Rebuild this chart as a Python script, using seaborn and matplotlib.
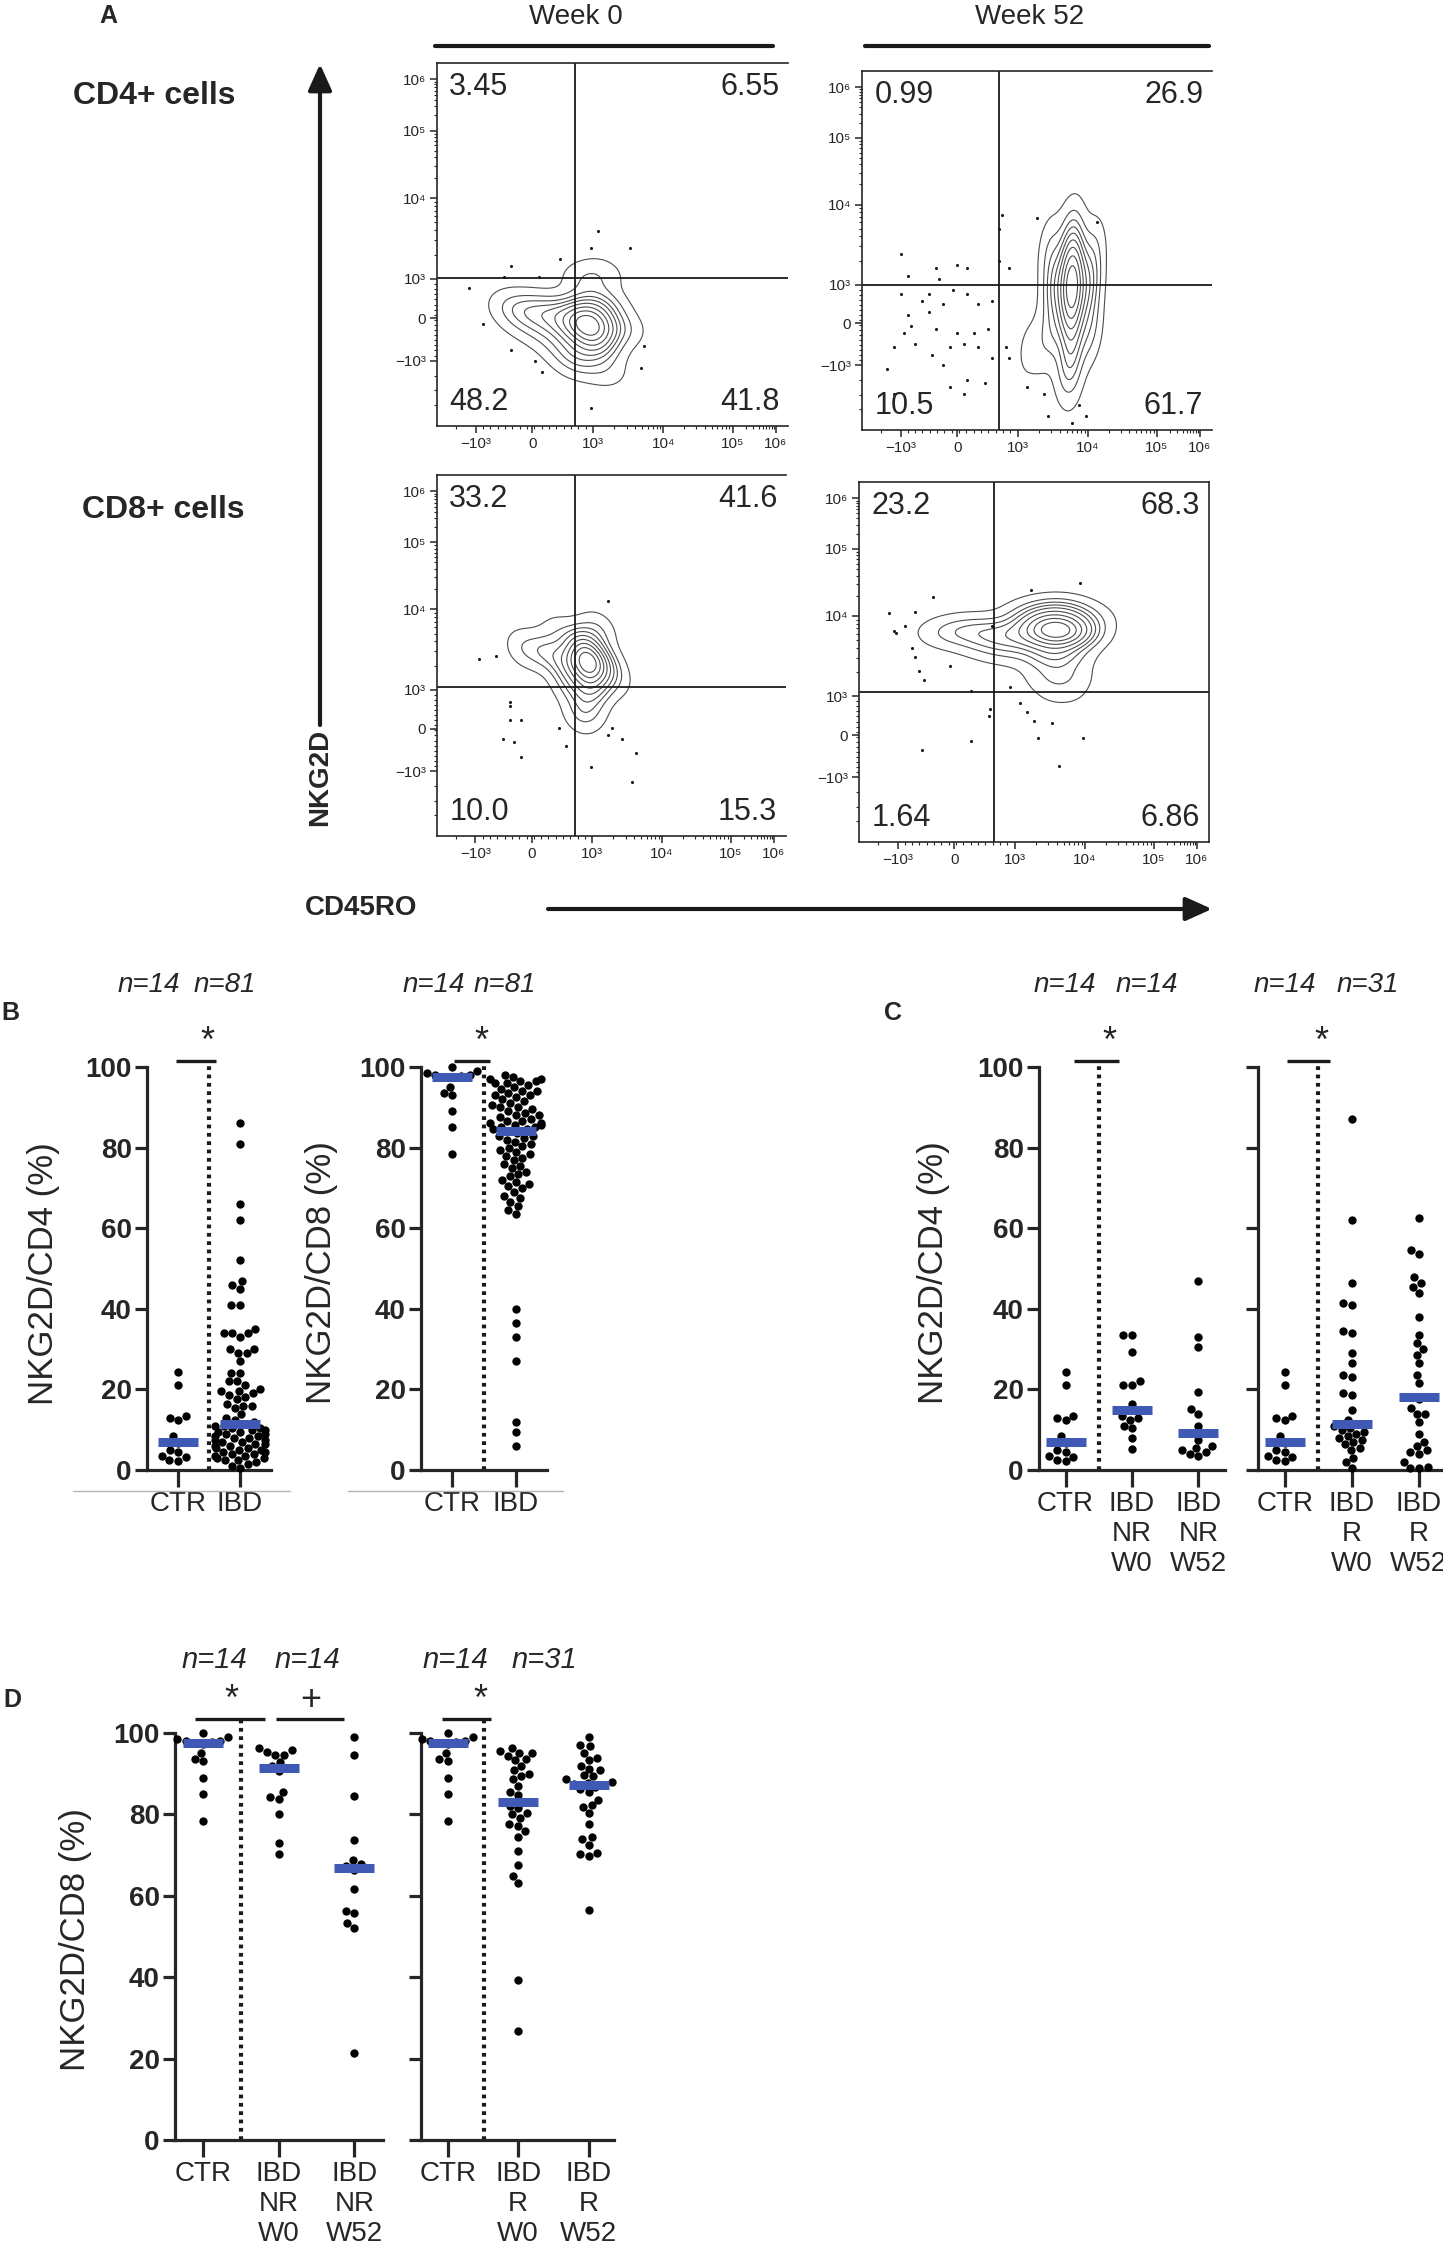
import numpy as np
import pandas as pd
import matplotlib
matplotlib.use("Agg")
import matplotlib.pyplot as plt
import seaborn as sns
from matplotlib.lines import Line2D
from matplotlib.patches import FancyArrowPatch

# ---------------- Panel A: flow cytometry ----------------
flow_ticks_x = [0.11, 0.272, 0.445, 0.645, 0.842, 0.965]
flow_ticks_y = [0.18, 0.297, 0.405, 0.628, 0.814, 0.955]
flow_tick_labels = ["−10³", "0", "10³", "10⁴", "10⁵", "10⁶"]

# quadrant frequencies: UL, UR, LL, LR
quad_cd4_w0 = ["3.45", "6.55", "48.2", "41.8"]
quad_cd4_w52 = ["0.99", "26.9", "10.5", "61.7"]
quad_cd8_w0 = ["33.2", "41.6", "10.0", "15.3"]
quad_cd8_w52 = ["23.2", "68.3", "1.64", "6.86"]

# gate positions (x, y) on the display scale
gate_cd4_w0 = (0.392, 0.407)
gate_cd4_w52 = (0.391, 0.404)
gate_cd8_w0 = (0.395, 0.414)
gate_cd8_w52 = (0.387, 0.416)

# weighted event clouds (display scale)
cd4_w0_x = [0.44, 0.42, 0.45, 0.47, 0.38, 0.33, 0.27, 0.21, 0.42, 0.47, 0.40, 0.48, 0.52, 0.36, 0.30, 0.24]
cd4_w0_y = [0.27, 0.31, 0.22, 0.33, 0.28, 0.31, 0.32, 0.33, 0.40, 0.42, 0.18, 0.15, 0.27, 0.22, 0.26, 0.29]
cd4_w0_w = [30, 15, 12, 8, 10, 8, 6, 4, 4, 3, 6, 3, 5, 5, 4, 3]

cd4_w52_x = [0.60, 0.60, 0.60, 0.55, 0.65, 0.55, 0.65, 0.60, 0.60, 0.54, 0.66, 0.60, 0.51, 0.47, 0.58]
cd4_w52_y = [0.40, 0.48, 0.32, 0.40, 0.40, 0.28, 0.28, 0.56, 0.22, 0.50, 0.50, 0.14, 0.24, 0.22, 0.17]
cd4_w52_w = [30, 16, 16, 10, 10, 6, 6, 5, 8, 5, 5, 3, 3, 2, 3]

cd8_w0_x = [0.43, 0.42, 0.44, 0.47, 0.37, 0.31, 0.25, 0.43, 0.38, 0.46, 0.35, 0.50, 0.41]
cd8_w0_y = [0.48, 0.53, 0.42, 0.48, 0.48, 0.51, 0.52, 0.36, 0.42, 0.57, 0.56, 0.44, 0.33]
cd8_w0_w = [30, 12, 12, 8, 8, 6, 4, 5, 5, 4, 3, 4, 3]

cd8_w52_x = [0.565, 0.60, 0.53, 0.57, 0.56, 0.57, 0.58, 0.47, 0.40, 0.32, 0.25, 0.43, 0.63, 0.50, 0.36]
cd8_w52_y = [0.585, 0.58, 0.60, 0.64, 0.52, 0.46, 0.41, 0.57, 0.58, 0.59, 0.58, 0.53, 0.62, 0.63, 0.55]
cd8_w52_w = [30, 10, 10, 8, 10, 5, 2, 6, 6, 5, 4, 3, 5, 5, 3]

# isolated events
cd4_w0_ox = [0.46, 0.44, 0.55, 0.21, 0.35, 0.09, 0.13, 0.21, 0.28, 0.30, 0.59, 0.58, 0.44, 0.19, 0.29]
cd4_w0_oy = [0.536, 0.49, 0.49, 0.44, 0.46, 0.38, 0.28, 0.21, 0.18, 0.15, 0.22, 0.16, 0.05, 0.41, 0.41]

cd4_w52_ox = [0.11, 0.13, 0.21, 0.22, 0.27, 0.30, 0.40, 0.39, 0.39, 0.11, 0.17, 0.19, 0.23, 0.26, 0.30,
              0.33, 0.37, 0.13, 0.19, 0.14, 0.21, 0.27, 0.32, 0.36, 0.12, 0.09, 0.15, 0.20, 0.25, 0.29,
              0.33, 0.37, 0.23, 0.25, 0.29, 0.30, 0.35, 0.07, 0.09, 0.41, 0.42, 0.47, 0.52, 0.53, 0.60,
              0.64, 0.62, 0.42, 0.50, 0.67]
cd4_w52_oy = [0.49, 0.43, 0.45, 0.42, 0.46, 0.45, 0.60, 0.56, 0.47, 0.38, 0.36, 0.38, 0.35, 0.39, 0.38,
              0.35, 0.36, 0.32, 0.33, 0.29, 0.28, 0.27, 0.27, 0.28, 0.27, 0.23, 0.24, 0.21, 0.23, 0.24,
              0.23, 0.20, 0.18, 0.12, 0.10, 0.14, 0.13, 0.17, 0.10, 0.23, 0.20, 0.12, 0.10, 0.04, 0.02,
              0.04, 0.07, 0.45, 0.59, 0.58]

cd8_w0_ox = [0.12, 0.17, 0.49, 0.21, 0.21, 0.21, 0.24, 0.19, 0.22, 0.24, 0.35, 0.37, 0.44, 0.50, 0.49, 0.53, 0.57, 0.56]
cd8_w0_oy = [0.49, 0.50, 0.65, 0.36, 0.37, 0.32, 0.32, 0.27, 0.26, 0.22, 0.30, 0.25, 0.19, 0.30, 0.28, 0.27, 0.23, 0.15]

cd8_w52_ox = [0.085, 0.10, 0.105, 0.13, 0.16, 0.21, 0.15, 0.16, 0.17, 0.185, 0.26, 0.32, 0.38, 0.375,
              0.37, 0.43, 0.46, 0.48, 0.50, 0.55, 0.51, 0.64, 0.57, 0.32, 0.18, 0.63, 0.49]
cd8_w52_oy = [0.635, 0.585, 0.58, 0.60, 0.64, 0.68, 0.54, 0.515, 0.475, 0.45, 0.49, 0.42, 0.60, 0.37,
              0.35, 0.43, 0.385, 0.36, 0.335, 0.33, 0.29, 0.29, 0.21, 0.28, 0.255, 0.72, 0.70]

# ---------------- Panels B-D: % NKG2D+ ----------------
ctr_cd4 = [24.3, 21.0, 13.5, 13.0, 12.5, 8.5, 7.0, 6.8, 5.0, 4.5, 3.5, 3.2, 2.5, 2.2]
ibd_cd4 = [86, 81, 66, 62, 52, 47, 46, 45, 41, 41, 35, 34, 34, 34, 33, 30, 30, 29, 29, 27, 24, 24, 22, 22, 21,
           20, 19.5, 19.5, 19, 18.5, 18, 17.5, 16.5, 16, 16, 15.5, 14, 13, 12.5, 12,
           11.5,
           11, 11, 10.5, 10.5, 10, 10, 9.5, 9.5, 9, 9, 8.5, 8.5, 8, 8, 7.5, 7.5, 7, 7, 6.5, 6.5,
           6, 6, 5.5, 5.5, 5, 5, 4.5, 4.5, 4, 4, 3.5, 3.5, 3, 3, 2.5, 2.5, 2, 1.5, 1, 0.5]
ctr_cd8 = [100, 99, 98.5, 98, 98, 97.8, 97.6, 97.4, 95, 93.5, 93, 89, 85, 78.5]
ibd_cd8 = [98, 97.5, 97, 97, 96.5, 96.5, 96, 96, 95.5, 95, 94.5, 94, 94, 93.5, 93, 93, 92.5, 92, 91.5, 91,
           90.5, 90, 90, 89.5, 89, 88.5, 88, 88, 87.5, 87, 86.5, 86.5, 86, 86, 85.5, 85.5, 85, 85, 84.5, 84.5,
           84,
           83.5, 83, 83, 82.5, 82, 81.5, 81, 80.5, 80, 79.5, 79, 78.5, 78, 77.5, 77, 76, 75.5, 75, 74, 73.5,
           73, 72, 71.5, 71, 70.5, 70, 69, 68, 67.5, 66.5, 65.5, 64.5, 63.5,
           40, 36.5, 33, 27, 12, 9.5, 6]

nr_w0_cd4 = [33.5, 33.5, 29.3, 22, 21.2, 21.2, 16.5, 13.5, 13, 12.5, 11, 10.5, 8, 5.2]
nr_w52_cd4 = [47, 33, 30.5, 19.3, 15.2, 14, 11, 7.5, 6, 5.5, 5, 4.5, 4, 3.5]
r_w0_cd4 = [87, 62, 46.5, 41.5, 41, 34.5, 34, 29, 26.5, 23.5, 23, 19, 18.5, 15, 12.5, 11.5,
            11, 10.5, 10, 9.5, 9, 8.5, 8, 7.5, 7, 6.5, 5.5, 5, 3, 2, 0.5]
r_w52_cd4 = [62.5, 54.5, 53.5, 48, 46.5, 45.5, 44, 38, 33.5, 31.5, 30, 28.5, 26.5, 23.5, 21.5, 18,
             17.5, 15.5, 14, 14, 12, 9, 7, 6, 5, 4.5, 4, 2, 0.8, 0.6, 0.5]

nr_w0_cd8 = [96.2, 95.8, 95.4, 94.7, 94.5, 92.9, 92.0, 90.6, 85.6, 84.2, 83.8, 80.2, 72.9, 70.2]
nr_w52_cd8 = [98.9, 94.7, 84.5, 73.6, 68.8, 67.8, 67.2, 66.4, 61.7, 56.2, 55.8, 53.3, 52, 21.4]
r_w0_cd8 = [96.4, 95.5, 95.2, 95, 94.4, 93.6, 93.4, 91.9, 90.8, 89.9, 89.5, 88.6, 87, 85.5, 84.8, 83.1,
            82, 81.5, 80.3, 80, 79.2, 77.6, 77.2, 75.9, 74.5, 70.9, 67.6, 64.9, 63.2, 39.4, 26.7]
r_w52_cd8 = [98.9, 97, 96.8, 95.2, 93.8, 93.4, 92, 91.2, 90.8, 89.6, 89.4, 88.6, 88, 87.8, 87.5, 87.3,
             86.8, 86.2, 85.5, 83.6, 82.2, 81.8, 80.3, 77.6, 74.5, 74.0, 72.6, 70.6, 70.2, 69.8, 56.6]

groups_b = ["CTR", "IBD"]
groups_nr = ["CTR", "IBD\nNR\nW0", "IBD\nNR\nW52"]
groups_r = ["CTR", "IBD\nR\nW0", "IBD\nR\nW52"]

# ---------------- style ----------------
sns.set_theme(style="ticks")
plt.rcParams["font.family"] = ["Liberation Sans", "DejaVu Sans"]
BLUE = "#3f59b4"

W, H = 1443, 2258
fig = plt.figure(figsize=(W / 100, H / 100), dpi=100)
fig.patch.set_facecolor("white")


def rect(l, t, r, b):
    return [l / W, 1 - b / H, (r - l) / W, (b - t) / H]


def fx(x):
    return x / W


def fy(y):
    return 1 - y / H


def ftext(x, y, s, **kw):
    fig.text(fx(x), fy(y), s, ha=kw.pop("ha", "center"), va=kw.pop("va", "center"), **kw)


def fline(x0, x1, y0, y1, **kw):
    fig.add_artist(Line2D([fx(x0), fx(x1)], [fy(y0), fy(y1)], **kw))


def flow_minor(major):
    neg, zero, p3 = major[0], major[1], major[2]
    out = list(np.linspace(neg, p3, 17)[1:-1])
    for a, b in zip(major[2:-1], major[3:]):
        out += [a + (b - a) * np.log10(m) for m in range(2, 10)]
    out += [neg - (zero - neg) * f for f in (0.35, 0.7, 1.05)]
    return [v for v in out if 0 < v < 1]


def flow_panel(box, ex, ey, ew, ox, oy, gate, quad, right=False):
    ax = fig.add_axes(rect(*box))
    sns.kdeplot(x=ex, y=ey, weights=ew, levels=10, thresh=0.04, bw_adjust=0.85,
                color="0.3", linewidths=0.8, ax=ax)
    sns.scatterplot(x=ox, y=oy, s=5, color="k", linewidth=0, ax=ax)
    ax.axvline(gate[0], color="k", lw=1.3)
    ax.axhline(gate[1], color="k", lw=1.3)
    ax.set_xlim(0, 1)
    ax.set_ylim(0, 1)
    ax.set_xticks(flow_ticks_x, flow_tick_labels, fontsize=11)
    ax.set_yticks(flow_ticks_y, flow_tick_labels, fontsize=11)
    ax.set_xticks(flow_minor(flow_ticks_x), minor=True)
    ax.set_yticks(flow_minor(flow_ticks_y), minor=True)
    ax.tick_params(which="major", length=5, width=1.1, pad=3)
    ax.tick_params(which="minor", length=2.5, width=0.8)
    for s in ["left", "bottom", "top", "right"]:
        ax.spines[s].set_linewidth(1.2)
    ax.spines["right"].set_visible(right)
    ax.set_xlabel("")
    ax.set_ylabel("")
    kw = dict(transform=ax.transAxes, fontsize=22)
    ax.text(0.035, 0.975, quad[0], ha="left", va="top", **kw)
    ax.text(0.975, 0.975, quad[1], ha="right", va="top", **kw)
    ax.text(0.035, 0.025, quad[2], ha="left", va="bottom", **kw)
    ax.text(0.975, 0.025, quad[3], ha="right", va="bottom", **kw)
    return ax


flow_panel((437, 63, 788, 426), cd4_w0_x, cd4_w0_y, cd4_w0_w, cd4_w0_ox, cd4_w0_oy, gate_cd4_w0, quad_cd4_w0)
flow_panel((862, 71, 1212, 430), cd4_w52_x, cd4_w52_y, cd4_w52_w, cd4_w52_ox, cd4_w52_oy, gate_cd4_w52, quad_cd4_w52)
flow_panel((437, 475, 786, 836), cd8_w0_x, cd8_w0_y, cd8_w0_w, cd8_w0_ox, cd8_w0_oy, gate_cd8_w0, quad_cd8_w0)
flow_panel((859, 482, 1209, 842), cd8_w52_x, cd8_w52_y, cd8_w52_w, cd8_w52_ox, cd8_w52_oy, gate_cd8_w52, quad_cd8_w52, right=True)

# panel A annotations
ftext(108, 16, "A", fontsize=18, fontweight="bold")
ftext(576, 17, "Week 0", fontsize=20)
ftext(1030, 17, "Week 52", fontsize=20)
fline(435, 773, 46, 46, color="k", lw=3)
fline(865, 1209, 46, 46, color="k", lw=3)
ftext(73, 96, "CD4+ cells", ha="left", fontsize=23, fontweight="bold")
ftext(82, 510, "CD8+ cells", ha="left", fontsize=23, fontweight="bold")
ftext(320, 777, "NKG2D", rotation=90, fontsize=20, fontweight="bold")
ftext(361, 908, "CD45RO", fontsize=20, fontweight="bold")
fig.add_artist(FancyArrowPatch((fx(320), fy(725)), (fx(320), fy(64)), transform=fig.transFigure,
                               arrowstyle="-|>,head_length=1.0,head_width=0.45", mutation_scale=16,
                               lw=3, color="k", shrinkA=0, shrinkB=0))
fig.add_artist(FancyArrowPatch((fx(548), fy(909)), (fx(1212), fy(909)), transform=fig.transFigure,
                               arrowstyle="-|>,head_length=1.0,head_width=0.45", mutation_scale=16,
                               lw=3, color="k", shrinkA=0, shrinkB=0))


# ---------------- dot panels ----------------
def dot_panel(box, groups, series, xlim, ylabels=True):
    ax = fig.add_axes(rect(*box))
    df = pd.DataFrame({"group": np.repeat(groups, [len(s) for s in series]),
                       "value": np.concatenate(series)})
    sns.swarmplot(data=df, x="group", y="value", order=groups, color="black",
                  size=6, warn_thresh=1, ax=ax)
    sns.pointplot(data=df, x="group", y="value", order=groups, estimator="median",
                  errorbar=None, color=BLUE, markers="_", linestyles="none",
                  markersize=29, markeredgewidth=6.5, ax=ax)
    for c in ax.collections:
        c.set_clip_on(False)
    for ln in ax.lines:
        ln.set_clip_on(False)
        ln.set_zorder(4)
    ax.set_xlim(*xlim)
    ax.set_ylim(0, 100)
    ax.set_yticks(range(0, 101, 20))
    ax.set_xlabel("")
    ax.set_ylabel("")
    sns.despine(ax=ax)
    for s in ["left", "bottom"]:
        ax.spines[s].set_linewidth(2.3)
    ax.tick_params(axis="y", length=9, width=2.3, pad=2, labelsize=20, left=True)
    ax.tick_params(axis="x", length=12, width=2.3, pad=3, labelsize=20, bottom=True)
    for t in ax.get_yticklabels():
        t.set_fontweight("bold")
    if not ylabels:
        ax.set_yticklabels([])
    ax.set_facecolor("none")
    return ax


def separator(ax, x, top=101):
    ax.plot([x, x], [0, top], color="k", lw=3, ls=(0, (0.9, 1.1)), clip_on=False)


def sig(ax, x0, x1, xs, sym, y=101.5):
    ax.plot([x0, x1], [y, y], color="k", lw=2.4, clip_on=False, solid_capstyle="butt")
    ax.text(xs, y + 4.5, sym, ha="center", va="center", fontsize=26)


# B
axb1 = dot_panel((147, 1067, 271, 1470), groups_b, [ctr_cd4, ibd_cd4], (-0.5, 1.5))
separator(axb1, 0.5)
sig(axb1, -0.03, 0.62, 0.48, "*")
axb2 = dot_panel((421, 1067, 547, 1470), groups_b, [ctr_cd8, ibd_cd8], (-0.5, 1.5))
separator(axb2, 0.5)
sig(axb2, 0.02, 0.6, 0.46, "*")
fline(73, 290, 1491, 1491, color="#b5b5b5", lw=1)
fline(348, 563, 1491, 1491, color="#b5b5b5", lw=1)

# C
axc1 = dot_panel((1039, 1067, 1225, 1470), groups_nr, [ctr_cd4, nr_w0_cd4, nr_w52_cd4], (-0.4, 2.4))
separator(axc1, 0.5)
sig(axc1, 0.12, 0.8, 0.66, "*")
axc2 = dot_panel((1258, 1067, 1443, 1470), groups_r, [ctr_cd4, r_w0_cd4, r_w52_cd4], (-0.4, 2.36),
                 ylabels=False)
separator(axc2, 0.5)
sig(axc2, 0.03, 0.67, 0.54, "*")

# D
axd1 = dot_panel((175, 1733, 383, 2140), groups_nr, [ctr_cd8, nr_w0_cd8, nr_w52_cd8], (-0.37, 2.38))
separator(axd1, 0.5, top=103)
sig(axd1, -0.1, 0.82, 0.38, "*", y=103.5)
sig(axd1, 0.96, 1.87, 1.42, "+", y=103.5)
axd2 = dot_panel((421, 1733, 614, 2140), groups_r, [ctr_cd8, r_w0_cd8, r_w52_cd8], (-0.38, 2.36),
                 ylabels=False)
separator(axd2, 0.52, top=103)
sig(axd2, -0.08, 0.61, 0.47, "*", y=103.5)

# labels
ftext(10, 1013, "B", fontsize=18, fontweight="bold")
ftext(893, 1013, "C", fontsize=18, fontweight="bold")
ftext(12, 1700, "D", fontsize=18, fontweight="bold")
ftext(44, 1274, "NKG2D/CD4 (%)", rotation=90, fontsize=25)
ftext(322, 1273, "NKG2D/CD8 (%)", rotation=90, fontsize=25)
ftext(934, 1273, "NKG2D/CD4 (%)", rotation=90, fontsize=25)
ftext(75, 1940, "NKG2D/CD8 (%)", rotation=90, fontsize=25)

nkw = dict(fontsize=20, style="italic")
for x, s in [(149, ctr_cd4), (225, ibd_cd4), (434, ctr_cd8), (505, ibd_cd8)]:
    ftext(x, 985, f"n={len(s)}", **nkw)
for x, s in [(1065, ctr_cd4), (1147, nr_w0_cd4), (1285, ctr_cd4), (1368, r_w0_cd4)]:
    ftext(x, 985, f"n={len(s)}", **nkw)
for x, s in [(214, ctr_cd8), (307, nr_w0_cd8), (455, ctr_cd8), (544, r_w0_cd8)]:
    ftext(x, 1660, f"n={len(s)}", fontsize=21, style="italic")

fig.savefig("out.png", dpi=100, facecolor="white")
